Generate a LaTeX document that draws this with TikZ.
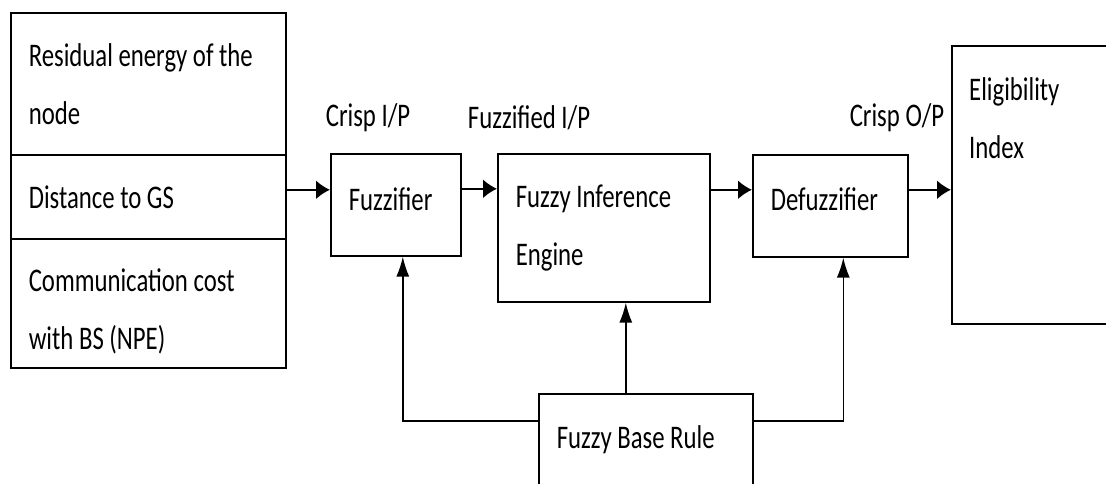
\documentclass[tikz,border=0pt]{standalone}
\usepackage{fontspec}
\setmainfont{Carlito}[FakeStretch=0.75]
\usetikzlibrary{arrows.meta, positioning}

\tikzset{
  txt/.style={font=\fontsize{33}{58}\selectfont},
  box/.style={txt, draw, line width=1.6pt, inner xsep=18pt, inner ysep=0pt,
    align=left, anchor=north west,
    execute at begin node={\spaceskip=0pt\xspaceskip=0pt\relax}},
  arr/.style={line width=2pt, -{Latex[length=14pt,width=19pt]}},
  lnk/.style={line width=1.6pt, -{Latex[length=20pt,width=13pt]}}
}

\begin{document}
\begin{tikzpicture}[x=1pt, y=-1pt]
\useasboundingbox (0,0) rectangle (1106,483);
% input parameters
\node[box, text width=239, minimum height=142] (resid) at (10,12) {Residual energy of the\\node};
\node[box, text width=239, minimum height=84] (dist) at (10,154) {Distance to GS};
\node[box, text width=239, minimum height=129, text height=39pt] (comm) at (10,238) {Communication cost\\with BS (NPE)};
% fuzzy blocks
\node[box, text width=94, minimum height=102, text depth=12pt] (fuzz) at (330,153) {Fuzzifier};
\node[box, text width=176, minimum height=148] (fie) at (497,153) {Fuzzy Inference\\Engine};
\node[box, text width=119, minimum height=102, text depth=14pt] (defuzz) at (752,154) {Defuzzifier};
\node[box, text width=164, minimum height=278] (elig) at (951,45) {};
\node[txt, align=left, anchor=north west, inner sep=0pt] (eligtxt) at (969,77) {Eligibility\\Index};
\node[box, text width=178, minimum height=92] (fbr) at (538,393) {Fuzzy Base Rule};
% labels
\node[txt] (crispin) at (368,118) {Crisp I/P};
\node[txt] (fuzzin) at (529,118) {Fuzzified I/P};
\node[txt] (crispout) at (897,118) {Crisp O/P};
% arrows
\draw[arr] ([yshift=15]fuzz.west -| dist.east) -- ([yshift=15]fuzz.west);
\draw[arr] ([yshift=16]fuzz.east) -- ([yshift=16]fuzz.east -| fie.west);
\draw[arr] ([yshift=16]defuzz.west -| fie.east) -- ([yshift=16]defuzz.west);
\draw[arr] ([yshift=16]defuzz.east) -- ([yshift=16]defuzz.east -| elig.west);
\draw[lnk] ([yshift=19]fbr.west) -| ([xshift=7]fuzz.south);
\draw[lnk] ([yshift=19]fbr.east) -| ([xshift=13]defuzz.south);
\draw[lnk] ([xshift=-20]fbr.north) -- ([xshift=-20]fbr.north |- fie.south);
\end{tikzpicture}
\end{document}
